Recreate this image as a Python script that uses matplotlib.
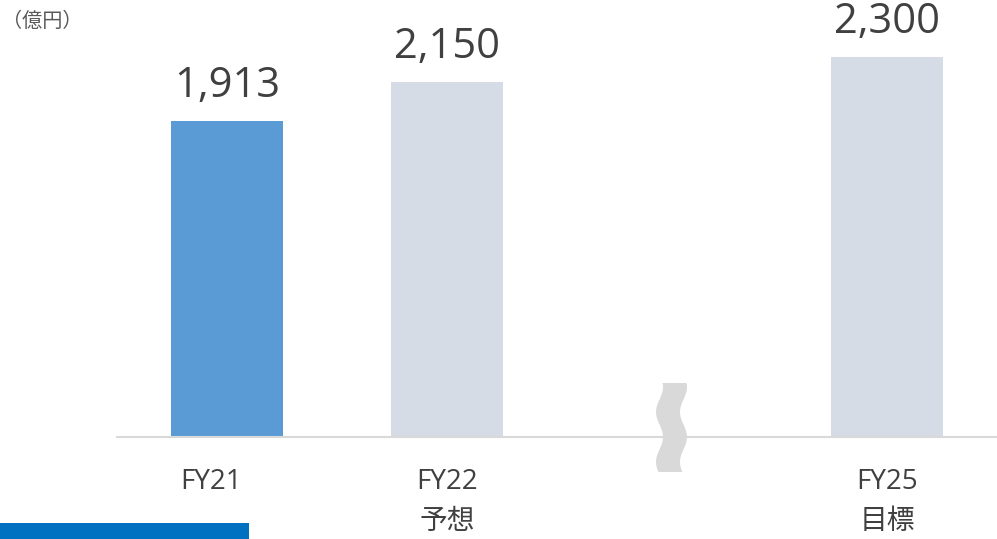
import numpy as np
import matplotlib
matplotlib.use("Agg")
import matplotlib.pyplot as plt
from matplotlib.patches import Polygon, Rectangle
from matplotlib.transforms import ScaledTranslation

plt.rcParams['font.family'] = ['Open Sans', 'Noto Sans CJK JP', 'DejaVu Sans']

# Data
categories = ["FY21", "FY22\n予想", "FY25\n目標"]
positions = [0, 1, 3]          # slot 2 holds the axis break
values = [1913, 2150, 2300]
colors = ["#5B9BD5", "#D6DCE5", "#D6DCE5"]
unit_label = "（億円）"

W, H = 997, 539
fig = plt.figure(figsize=(W / 100, H / 100), dpi=100)

# axes spans x 117..997 px, baseline at y=437 px, top at y=0
ax = fig.add_axes([117 / W, (H - 437) / H, 880 / W, 437 / H])
ax.set_xlim(-0.5, 3.5)
ax.set_ylim(0, 437 / 0.1653)

bars = ax.bar(positions, values, width=0.505, color=colors, zorder=2)
for b, v in zip(bars, values):
    ax.annotate(f"{v:,}", (b.get_x() + b.get_width() / 2, v),
                xytext=(0, 10), textcoords="offset points",
                ha="center", va="bottom", fontsize=30, color="#404040")

for s in ["top", "right", "left"]:
    ax.spines[s].set_visible(False)
ax.spines["bottom"].set_color("#D9D9D9")
ax.spines["bottom"].set_linewidth(1.5)
ax.set_yticks([])
ax.set_xticks(positions)
ax.set_xticklabels(categories, fontsize=20, color="#404040", linespacing=1.6)
ax.tick_params(axis="x", length=0, pad=22)
# FY21 label sits a little left of its bar in the original
lbl = ax.get_xticklabels()[0]
lbl.set_transform(lbl.get_transform() + ScaledTranslation(-16 / 100, 0, fig.dpi_scale_trans))

# wavy axis-break marker
def px(x, y):
    return (x / W, 1 - y / H)

ys = np.linspace(383, 472, 60)
cx = 671.5 + 3.5 * np.cos(2 * np.pi * (ys - 437) / 50)
left = [px(c - 12, y) for c, y in zip(cx, ys)]
right = [px(c + 12, y) for c, y in zip(cx[::-1], ys[::-1])]
fig.patches.append(Polygon(left + right, closed=True, transform=fig.transFigure,
                           facecolor="#D9D9D9", edgecolor="none", zorder=5))

# unit label
fig.text(2 / W, 1 - 21 / H, unit_label, fontsize=14.5, color="#595959",
         ha="left", va="center", family=['Noto Sans CJK JP', 'DejaVu Sans'])

# blue strip bottom-left
fig.patches.append(Rectangle(px(0, 539), 249 / W, 16 / H, transform=fig.transFigure,
                             facecolor="#0070C0", edgecolor="none"))

fig.savefig("out.png", dpi=100)
